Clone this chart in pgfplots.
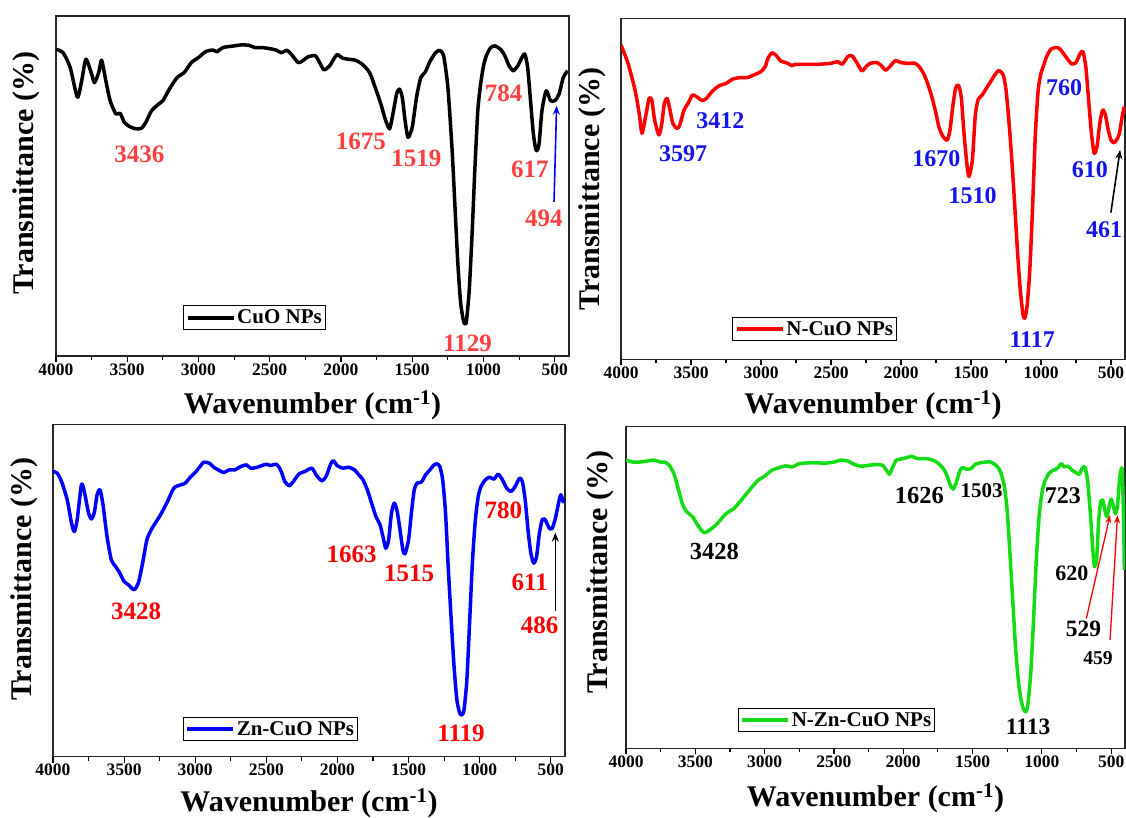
\documentclass[border=0pt]{standalone}
\usepackage{pgfplots}
\pgfplotsset{compat=1.18}
\usepackage{fontspec}
\setmainfont{Liberation Serif}
\usetikzlibrary{arrows.meta}
\definecolor{labred}{RGB}{255,64,64}
\definecolor{labblue}{RGB}{20,20,235}
\definecolor{curvegreen}{RGB}{20,220,20}
\newcommand{\fs}[1]{\bfseries\fontsize{#1}{#1}\selectfont}
\pgfplotsset{
  ftir/.style={
    scale only axis,
    x dir=reverse,
    xmin=400, xmax=4000, ymin=0, ymax=100,
    ytick=\empty,
    xtick={500,1000,...,4000},
    xticklabels={500,1000,1500,2000,2500,3000,3500,4000},
    minor x tick num=1,
    xtick pos=bottom,
    tick align=outside,
    major tick length=6pt,
    minor tick length=4pt,
    axis line style={line width=1.3pt, black!85},
    every tick/.style={line width=1.2pt, black},
    ticklabel style={font=\fs{17.5}},
    xticklabel style={yshift=2pt},
    legend cell align=left,
    legend image code/.code={\draw[##1, line width=4pt] (0pt,0pt) -- (46pt,0pt);},
    legend style={draw=black, line width=1pt, inner xsep=2pt, inner ysep=2.5pt, anchor=south west, font=\fs{21}, nodes={inner sep=1.5pt}},
    xlabel={Wavenumber (cm\textsuperscript{-1})}, ylabel={Transmittance (\%)},
  },
  curve/.style={line width=3.5pt, smooth, tension=0.4, line join=round},
}
\begin{document}
\begin{tikzpicture}
\useasboundingbox (0,0) rectangle (1126pt,817pt);
% ---------------- Panel 1 : CuO
\begin{axis}[ftir, at={(56pt,461pt)}, anchor=south west, width=513pt, height=340pt,
  xlabel style={at={(axis description cs:0.5,-0.144)}, anchor=center, font=\fs{30}},
  ylabel style={at={(axis description cs:-0.058,0.538)}, anchor=center, rotate=0, font=\fs{30}},
  legend style={at={(0.248,0.077)}}]
\addplot[curve, black] coordinates {
(4000,90.2)(3950,89.2)(3900,84.8)(3850,76.1)(3820,80.9)(3790,87.3)(3750,82.9)(3730,80.4)(3700,83.4)(3680,87.0)
(3650,80.9)(3620,75.1)(3580,71.2)(3550,71.4)(3520,68.7)(3480,67.4)(3436,66.8)(3400,67.0)(3370,68.7)(3330,72.1)
(3280,74.1)(3250,75.1)(3200,78.8)(3150,81.9)(3100,83.4)(3050,86.3)(3000,87.8)(2950,89.5)(2900,90.0)(2870,89.5)
(2830,90.7)(2750,91.2)(2700,91.5)(2650,91.4)(2600,90.7)(2550,90.7)(2500,90.4)(2450,89.9)(2420,89.2)(2380,89.9)
(2350,88.8)(2300,86.3)(2270,86.8)(2230,88.0)(2180,88.3)(2150,86.3)(2120,84.2)(2080,85.3)(2030,88.6)(1990,87.6)
(1950,87.3)(1900,87.0)(1850,85.8)(1800,83.4)(1760,79.0)(1720,74.1)(1690,69.7)(1660,66.8)(1640,70.2)(1610,77.0)
(1590,78.5)(1570,76.1)(1550,69.2)(1530,64.3)(1500,67.3)(1470,76.1)(1440,81.9)(1410,83.4)(1380,86.3)(1340,89.0)
(1310,89.9)(1280,88.3)(1250,79.0)(1220,60.4)(1200,43.8)(1180,27.2)(1160,15.5)(1140,10.2)(1130,9.5)(1120,10.1)
(1100,19.4)(1080,36.0)(1060,55.5)(1040,72.1)(1020,80.0)(1000,85.3)(980,88.3)(950,90.7)(920,91.2)(880,90.2)
(850,88.3)(820,85.3)(790,83.9)(760,85.3)(730,87.8)(710,88.8)(690,84.8)(670,75.1)(650,65.3)(630,60.4)
(610,62.4)(590,72.1)(560,78.0)(530,75.1)(500,75.1)(470,77.0)(440,81.9)(410,83.9)
};
\addlegendentry{CuO NPs}
\node[font=\fs{25}, text=labred] at (axis cs:3415,59.4) {3436};
\node[font=\fs{25}, text=labred] at (axis cs:1861,63.1) {1675};
\node[font=\fs{25}, text=labred] at (axis cs:1471,58.0) {1519};
\node[font=\fs{25}, text=labred] at (axis cs:1112,3.7) {1129};
\node[font=\fs{25}, text=labred] at (axis cs:859,77.2) {784};
\node[font=\fs{25}, text=labred] at (axis cs:674,55.0) {617};
\node[font=\fs{25}, text=labred] at (axis cs:576,40.4) {494};
\draw[-{Stealth[length=9pt,width=7pt]}, blue, line width=1.6pt] (axis cs:505,45.3) -- (axis cs:487,73.6);
\end{axis}
% ---------------- Panel 2 : N-CuO
\begin{axis}[ftir, at={(621pt,457.7pt)}, anchor=south west, width=504pt, height=341pt,
  xlabel style={at={(axis description cs:0.5,-0.134)}, anchor=center, font=\fs{30}},
  ylabel style={at={(axis description cs:-0.056,0.50)}, anchor=center, rotate=0, font=\fs{30}},
  legend style={at={(0.221,0.053)}}]
\addplot[curve, red] coordinates {
(4000,92.2)(3950,86.8)(3900,79.0)(3870,72.1)(3850,66.3)(3820,72.1)(3800,76.5)(3780,76.1)(3760,70.2)(3730,65.8)
(3710,68.7)(3690,75.1)(3670,76.5)(3650,73.1)(3630,69.2)(3600,67.7)(3580,68.7)(3550,73.1)(3520,75.1)(3490,77.5)
(3460,77.0)(3420,75.9)(3390,76.5)(3350,78.5)(3300,80.2)(3250,80.9)(3200,82.2)(3150,82.6)(3100,82.6)(3050,83.4)
(3000,84.4)(2970,85.8)(2950,88.3)(2920,89.9)(2890,89.0)(2860,87.5)(2830,87.1)(2800,86.6)(2780,86.1)(2750,86.5)
(2600,86.5)(2500,86.8)(2450,87.3)(2420,86.5)(2380,88.8)(2350,89.0)(2320,87.3)(2280,84.6)(2250,85.8)(2220,86.8)
(2170,87.0)(2140,86.1)(2110,84.8)(2080,85.8)(2040,87.6)(2000,87.0)(1950,86.8)(1900,86.8)(1870,85.8)(1840,83.9)
(1810,80.9)(1780,77.0)(1750,72.1)(1730,68.2)(1700,65.3)(1670,64.3)(1650,67.3)(1630,74.1)(1610,79.5)(1590,80.4)
(1570,77.0)(1550,66.3)(1530,57.5)(1515,53.6)(1490,58.5)(1470,71.2)(1450,76.1)(1420,77.5)(1390,79.5)(1360,81.4)
(1330,83.4)(1300,84.7)(1270,83.4)(1250,79.0)(1230,70.2)(1210,59.4)(1190,46.7)(1170,33.0)(1150,21.3)(1130,13.5)
(1117,12.0)(1100,15.4)(1080,26.2)(1060,44.8)(1040,66.3)(1020,79.0)(1000,83.9)(980,86.3)(960,88.8)(930,90.9)
(900,91.4)(870,91.2)(840,89.7)(810,88.0)(780,86.6)(750,87.0)(720,89.7)(700,90.2)(680,85.8)(660,76.1)
(640,66.3)(620,60.4)(600,62.4)(580,69.2)(560,73.1)(540,71.7)(520,67.3)(500,64.3)(480,63.5)(460,64.3)
(440,66.3)(420,71.2)(405,74.1)
};
\addlegendentry{N-CuO NPs}
\node[font=\fs{24}, text=labblue] at (axis cs:3557,60.2) {3597};
\node[font=\fs{24}, text=labblue] at (axis cs:3291,70.0) {3412};
\node[font=\fs{24}, text=labblue] at (axis cs:1747,58.9) {1670};
\node[font=\fs{24}, text=labblue] at (axis cs:1489,47.9) {1510};
\node[font=\fs{24}, text=labblue] at (axis cs:1063,5.7) {1117};
\node[font=\fs{24}, text=labblue] at (axis cs:835,79.8) {760};
\node[font=\fs{24}, text=labblue] at (axis cs:651,55.5) {610};
\node[font=\fs{24}, text=labblue] at (axis cs:549,37.9) {461};
\draw[-{Stealth[length=9pt,width=7pt]}, black, line width=1.6pt] (axis cs:501,43.0) -- (axis cs:435,61.4);
\end{axis}
% ---------------- Panel 3 : Zn-CuO
\begin{axis}[ftir, at={(53pt,60.3pt)}, anchor=south west, width=512pt, height=332pt,
  xlabel style={at={(axis description cs:0.5,-0.139)}, anchor=center, font=\fs{30}},
  ylabel style={at={(axis description cs:-0.057,0.535)}, anchor=center, rotate=0, font=\fs{30}},
  legend style={at={(0.2535,0.046)}}]
\addplot[curve, blue] coordinates {
(4000,85.9)(3970,85.4)(3940,82.9)(3900,77.4)(3870,70.4)(3850,67.8)(3830,71.4)(3800,81.9)(3780,79.9)(3750,73.4)
(3730,71.6)(3710,73.4)(3690,78.9)(3670,80.4)(3650,76.4)(3620,66.3)(3590,59.3)(3560,57.3)(3530,55.3)(3500,52.8)
(3470,51.8)(3430,50.3)(3400,52.3)(3370,58.3)(3340,65.3)(3310,68.3)(3280,70.4)(3250,72.4)(3200,76.4)(3150,80.9)
(3100,81.9)(3070,82.4)(3030,84.4)(3000,85.6)(2970,87.2)(2940,88.7)(2900,88.4)(2870,87.2)(2830,86.2)(2800,85.6)
(2760,86.4)(2720,86.4)(2680,87.4)(2640,87.9)(2610,86.9)(2570,87.1)(2530,87.7)(2500,88.1)(2470,87.7)(2430,88.1)
(2400,86.4)(2370,82.9)(2340,81.6)(2310,82.9)(2270,85.2)(2230,85.9)(2180,86.9)(2150,84.9)(2110,83.1)(2080,84.4)
(2050,87.9)(2030,89.2)(2000,87.6)(1960,86.9)(1920,87.2)(1880,86.4)(1850,84.9)(1820,83.4)(1790,80.4)(1760,76.4)
(1730,72.4)(1700,69.8)(1680,66.3)(1660,62.8)(1640,65.3)(1620,73.4)(1600,76.4)(1580,73.9)(1560,68.3)(1540,62.3)
(1525,61.1)(1500,65.3)(1480,73.4)(1460,80.4)(1440,82.4)(1410,82.7)(1380,84.9)(1350,86.4)(1320,87.9)(1300,88.2)
(1280,87.4)(1260,83.4)(1240,73.4)(1220,56.3)(1200,41.2)(1180,27.1)(1160,17.1)(1140,13.1)(1125,12.6)(1110,14.1)
(1090,23.1)(1070,41.2)(1050,59.3)(1030,71.4)(1010,78.4)(990,81.4)(960,83.4)(930,84.2)(900,83.6)(870,85.1)
(840,83.4)(810,80.9)(780,79.9)(750,81.4)(720,83.9)(700,82.9)(680,77.4)(660,68.3)(640,61.3)(620,58.3)
(600,60.3)(580,67.3)(560,71.4)(540,71.4)(510,68.8)(490,68.8)(470,71.4)(450,75.4)(430,78.9)(410,76.4)
};
\addlegendentry{Zn-CuO NPs}
\node[font=\fs{25}, text=red] at (axis cs:3416,43.7) {3428};
\node[font=\fs{25}, text=red] at (axis cs:1900,60.8) {1663};
\node[font=\fs{25}, text=red] at (axis cs:1496,55.1) {1515};
\node[font=\fs{25}, text=red] at (axis cs:1131,7.0) {1119};
\node[font=\fs{25}, text=red] at (axis cs:834,74.2) {780};
\node[font=\fs{25}, text=red] at (axis cs:648,52.5) {611};
\node[font=\fs{25}, text=red] at (axis cs:578,39.7) {486};
\draw[-{Stealth[length=9pt,width=7pt]}, black, line width=1.6pt] (axis cs:468,44.0) -- (axis cs:468,67.5);
\end{axis}
% ---------------- Panel 4 : N-Zn-CuO
\begin{axis}[ftir, at={(626pt,68.7pt)}, anchor=south west, width=499pt, height=322pt,
  xlabel style={at={(axis description cs:0.5,-0.154)}, anchor=center, font=\fs{30}},
  ylabel style={at={(axis description cs:-0.052,0.547)}, anchor=center, rotate=0, font=\fs{30}},
  legend style={at={(0.224,0.050)}}]
\addplot[curve, curvegreen] coordinates {
(4000,89.5)(3950,88.9)(3900,88.9)(3850,89.2)(3800,89.5)(3750,88.9)(3720,88.9)(3700,88.4)(3680,87.4)(3650,84.8)
(3620,80.1)(3590,75.5)(3560,73.4)(3520,71.9)(3490,69.8)(3450,67.4)(3428,67.0)(3400,67.7)(3360,69.0)(3320,70.8)
(3290,72.4)(3250,73.7)(3220,74.5)(3180,76.5)(3130,79.1)(3080,81.7)(3040,83.5)(3000,84.5)(2950,86.3)(2900,87.1)
(2850,87.7)(2800,87.4)(2750,88.4)(2700,88.6)(2650,88.7)(2600,88.6)(2550,88.6)(2500,88.9)(2450,89.5)(2400,89.2)
(2350,88.1)(2300,87.6)(2250,87.9)(2200,88.1)(2150,87.9)(2120,86.3)(2100,85.1)(2080,86.9)(2050,89.5)(2020,89.8)
(1980,90.2)(1940,90.7)(1900,90.0)(1850,90.0)(1800,89.7)(1760,88.9)(1720,87.4)(1690,85.3)(1660,81.7)(1640,80.5)
(1620,82.2)(1590,86.3)(1570,87.2)(1540,86.6)(1510,86.9)(1480,88.2)(1440,88.7)(1400,88.9)(1370,88.9)(1340,88.2)
(1310,86.9)(1290,84.8)(1270,81.2)(1250,73.9)(1230,60.5)(1210,46.0)(1190,31.5)(1170,21.2)(1150,15.0)(1130,11.9)
(1113,11.4)(1100,14.0)(1080,23.3)(1060,39.8)(1040,58.4)(1020,71.9)(1000,79.1)(980,82.7)(950,85.3)(920,86.3)
(890,86.9)(860,88.4)(840,87.4)(810,87.6)(780,86.3)(750,85.5)(730,85.1)(710,86.9)(690,87.4)(670,83.2)
(650,72.9)(630,60.5)(620,56.4)(605,58.4)(590,70.8)(575,76.5)(560,77.0)(545,73.9)(530,71.9)(515,75.0)
(500,77.4)(485,75.5)(470,72.9)(455,75.0)(440,83.2)(430,86.3)(420,86.3)(410,70.8)(405,55.3)
};
\addlegendentry{N-Zn-CuO NPs}
\node[font=\fs{24.5}, text=black] at (axis cs:3363,61.0) {3428};
\node[font=\fs{24.5}, text=black] at (axis cs:1884,78.6) {1626};
\node[font=\fs{21}, text=black] at (axis cs:1434,80.1) {1503};
\node[font=\fs{24}, text=black] at (axis cs:848,78.6) {723};
\node[font=\fs{22}, text=black] at (axis cs:784,54.5) {620};
\node[font=\fs{23.5}, text=black] at (axis cs:1099,6.7) {1113};
\node[font=\fs{23.4}, text=black] at (axis cs:700,37.2) {529};
\node[font=\fs{19.6}, text=black] at (axis cs:595,27.9) {459};
\draw[-{Stealth[length=8pt,width=6pt]}, red, line width=1.3pt] (axis cs:679,40.3) -- (axis cs:508,72.4);
\draw[-{Stealth[length=8pt,width=6pt]}, red, line width=1.3pt] (axis cs:508,33.6) -- (axis cs:454,72.4);
\end{axis}
\end{tikzpicture}
\end{document}
